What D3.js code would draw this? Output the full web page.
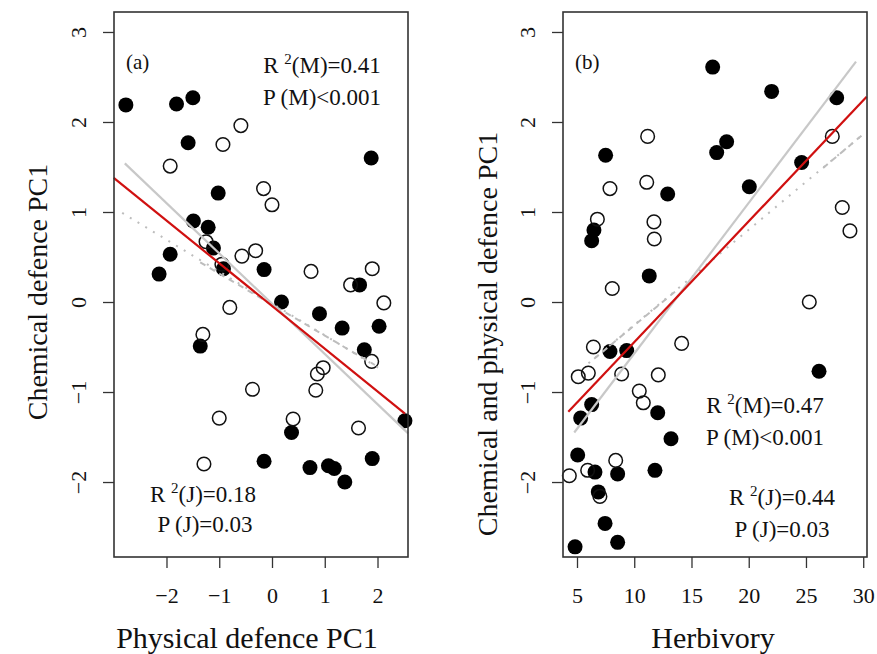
<!DOCTYPE html>
<html>
<head>
<meta charset="utf-8">
<script src="https://cdn.jsdelivr.net/npm/d3@7"></script>
<style>
  body { margin: 0; background: #fff; }
  svg { display: block; }
  text { font-family: "Liberation Serif", "Times New Roman", serif; fill: #111; }
</style>
</head>
<body>
<div id="chart"></div>
<script>
// ---- panel (a): physical defence PC1 vs chemical defence PC1 ----
const aFilled = [
  [-2.77, 2.19], [-1.81, 2.20], [-1.50, 2.27], [-1.59, 1.77], [1.88, 1.60],
  [-1.02, 1.21], [-1.49, 0.90], [-1.21, 0.83], [-1.11, 0.60], [-0.92, 0.37],
  [-1.93, 0.53], [-2.14, 0.31], [-0.15, 0.36], [1.66, 0.19], [0.18, 0.00],
  [0.90, -0.13], [1.33, -0.29], [2.03, -0.27], [-1.36, -0.49], [1.75, -0.53],
  [0.37, -1.45], [2.52, -1.32], [-0.15, -1.77], [0.72, -1.84], [1.07, -1.82],
  [1.18, -1.85], [1.38, -2.00], [1.90, -1.74]
];
const aOpen = [
  [-0.59, 1.96], [-0.93, 1.75], [-1.93, 1.51], [-0.16, 1.26], [0.00, 1.08],
  [-1.25, 0.67], [-0.95, 0.42], [-0.57, 0.51], [-0.31, 0.57], [0.74, 0.34],
  [1.90, 0.37], [1.49, 0.19], [2.12, -0.01], [-0.80, -0.06], [-1.31, -0.36],
  [1.89, -0.66], [0.97, -0.73], [0.86, -0.80], [-0.37, -0.97], [0.83, -0.98],
  [-1.00, -1.29], [0.40, -1.30], [1.64, -1.40], [-1.29, -1.80]
];
// fitted lines, end points in data units
const aRed = [[-3.0, 1.38], [2.52, -1.24]];
const aGray = [[-2.79, 1.54], [2.58, -1.46]];
const aDotted = [[-2.84, 0.99], [2.10, -0.76]];
const aDashed = [[[-1.36, 0.44], [1.95, -0.70]]];

// ---- panel (b): herbivory vs chemical and physical defence PC1 ----
const bFilled = [
  [16.85, 2.61], [22.0, 2.34], [27.68, 2.27], [7.5, 1.63], [18.07, 1.78],
  [17.2, 1.66], [24.62, 1.55], [12.92, 1.20], [20.05, 1.28], [6.48, 0.80],
  [6.28, 0.68], [11.31, 0.29], [7.88, -0.55], [9.34, -0.54], [26.14, -0.77],
  [6.28, -1.14], [5.32, -1.29], [12.05, -1.23], [13.21, -1.52], [5.06, -1.70],
  [6.57, -1.89], [8.55, -1.91], [11.81, -1.87], [6.86, -2.11], [7.45, -2.46],
  [4.83, -2.72], [8.55, -2.67]
];
const bOpen = [
  [11.17, 1.84], [27.3, 1.84], [7.88, 1.26], [11.09, 1.33], [28.17, 1.05],
  [28.84, 0.79], [6.78, 0.92], [11.72, 0.89], [11.75, 0.70], [8.08, 0.15],
  [25.29, 0.00], [6.43, -0.50], [14.14, -0.46], [5.11, -0.83], [5.99, -0.79],
  [8.9, -0.80], [12.1, -0.81], [10.44, -0.99], [10.79, -1.12], [8.38, -1.76],
  [4.33, -1.93], [5.93, -1.87], [7.0, -2.16]
];
const bRed = [[4.24, -1.22], [30.3, 2.28]];
const bGray = [[4.76, -1.45], [29.37, 2.67]];
const bDotted = [[6.0, -0.68], [30.15, 1.88]];
const bDashed = [[[6.5, -0.63], [13.7, 0.13]], [[26.5, 1.49], [30.15, 1.88]]];

// ticks
const aXTicks = [-2, -1, 0, 1, 2];
const bXTicks = [5, 10, 15, 20, 25, 30];
const yTicks = [-2, -1, 0, 1, 2, 3];

const W = 877, H = 654;
const svg = d3.select("#chart").append("svg")
  .attr("width", W)
  .attr("height", H);

const yDomain = [-2.833, 3.222];
const plotTop = 12, plotBottom = 557;

function drawPanel(cfg) {
  const x = d3.scaleLinear().domain(cfg.xDomain).range([cfg.left, cfg.right]);
  const y = d3.scaleLinear().domain(yDomain).range([plotBottom, plotTop]);
  const g = svg.append("g");

  // axes (R style: outward ticks, no domain line)
  const xAxis = g.append("g")
    .attr("transform", `translate(0,${plotBottom})`)
    .call(d3.axisBottom(x).tickValues(cfg.xTicks).tickSize(11).tickPadding(19)
      .tickFormat(d => d < 0 ? "\u2212" + Math.abs(d) : d));
  xAxis.select(".domain").remove();
  xAxis.selectAll("line").attr("stroke", "#333").attr("stroke-width", 1.3);
  xAxis.selectAll("text").style("font-family", "Liberation Serif").style("font-size", "22px").attr("fill", "#111");

  const yAxis = g.append("g")
    .attr("transform", `translate(${cfg.left},0)`)
    .call(d3.axisLeft(y).tickValues(yTicks).tickSize(11)
      .tickFormat(d => d < 0 ? "\u2212" + Math.abs(d) : d));
  yAxis.select(".domain").remove();
  yAxis.selectAll("line").attr("stroke", "#333").attr("stroke-width", 1.3);
  yAxis.selectAll("text")
    .style("font-family", "Liberation Serif").style("font-size", "22px").attr("fill", "#111")
    .attr("x", null).attr("dy", null)
    .attr("text-anchor", "middle")
    .attr("transform", "translate(-28,0) rotate(-90)")
    .attr("y", 0);

  // points
  g.append("g").selectAll("circle").data(cfg.filled).join("circle")
    .attr("cx", d => x(d[0])).attr("cy", d => y(d[1]))
    .attr("r", 7.5).attr("fill", "#000");
  g.append("g").selectAll("circle").data(cfg.open).join("circle")
    .attr("cx", d => x(d[0])).attr("cy", d => y(d[1]))
    .attr("r", 6.8).attr("fill", "none").attr("stroke", "#111").attr("stroke-width", 1.5);

  // fit lines
  const line = d3.line().x(d => x(d[0])).y(d => y(d[1]));
  g.append("path").datum(cfg.dotted).attr("d", line)
    .attr("stroke", "#bdbdbd").attr("stroke-width", 2).attr("fill", "none")
    .attr("stroke-dasharray", "2,7");
  cfg.dashed.forEach(seg => {
    g.append("path").datum(seg).attr("d", line)
      .attr("stroke", "#bdbdbd").attr("stroke-width", 2).attr("fill", "none")
      .attr("stroke-dasharray", "6,5");
  });
  g.append("path").datum(cfg.gray).attr("d", line)
    .attr("stroke", "#c8c8c8").attr("stroke-width", 2.2).attr("fill", "none");
  g.append("path").datum(cfg.red).attr("d", line)
    .attr("stroke", "#d01010").attr("stroke-width", 2.2).attr("fill", "none");

  // box
  g.append("rect")
    .attr("x", cfg.left).attr("y", plotTop)
    .attr("width", cfg.right - cfg.left).attr("height", plotBottom - plotTop)
    .attr("fill", "none").attr("stroke", "#333").attr("stroke-width", 1.6);

  // panel letter
  g.append("text").attr("x", cfg.left + 12).attr("y", 69)
    .style("font-size", "21px").text(cfg.letter);

  // stats text
  cfg.stats.forEach(s => {
    const t = g.append("text").attr("x", s.x).attr("y", s.y)
      .attr("text-anchor", "middle").style("font-size", "23px");
    if (s.sup) {
      t.append("tspan").text(s.pre);
      t.append("tspan").attr("dy", -9).style("font-size", "15px").text("2");
      t.append("tspan").attr("dy", 9).text(s.post);
    } else {
      t.text(s.pre);
    }
  });

  // axis titles
  g.append("text").attr("x", cfg.xTitleX).attr("y", 648)
    .attr("text-anchor", "middle").style("font-size", "30px").text(cfg.xTitle);
  g.append("text")
    .attr("transform", `translate(${cfg.yTitleX},${cfg.yTitleY}) rotate(-90)`)
    .attr("text-anchor", "middle").style("font-size", cfg.yTitleSize).text(cfg.yTitle);
}

drawPanel({
  left: 114, right: 408, xDomain: [-2.995, 2.578], xTicks: aXTicks,
  filled: aFilled, open: aOpen,
  red: aRed, gray: aGray, dotted: aDotted, dashed: aDashed,
  letter: "(a)",
  stats: [
    { pre: "R ", post: "(M)=0.41", sup: true, x: 322, y: 73 },
    { pre: "P (M)<0.001", x: 322, y: 105 },
    { pre: "R ", post: "(J)=0.18", sup: true, x: 203, y: 502 },
    { pre: "P (J)=0.03", x: 205, y: 532 }
  ],
  xTitle: "Physical defence PC1", xTitleX: 247,
  yTitle: "Chemical defence PC1", yTitleX: 47, yTitleY: 292, yTitleSize: "28px"
});

drawPanel({
  left: 563, right: 867, xDomain: [3.777, 30.33], xTicks: bXTicks,
  filled: bFilled, open: bOpen,
  red: bRed, gray: bGray, dotted: bDotted, dashed: bDashed,
  letter: "(b)",
  stats: [
    { pre: "R ", post: "(M)=0.47", sup: true, x: 765, y: 413 },
    { pre: "P (M)<0.001", x: 765, y: 445 },
    { pre: "R ", post: "(J)=0.44", sup: true, x: 782, y: 505 },
    { pre: "P (J)=0.03", x: 782, y: 537 }
  ],
  xTitle: "Herbivory", xTitleX: 713,
  yTitle: "Chemical and physical defence PC1", yTitleX: 497, yTitleY: 334, yTitleSize: "28px"
});
</script>
</body>
</html>
